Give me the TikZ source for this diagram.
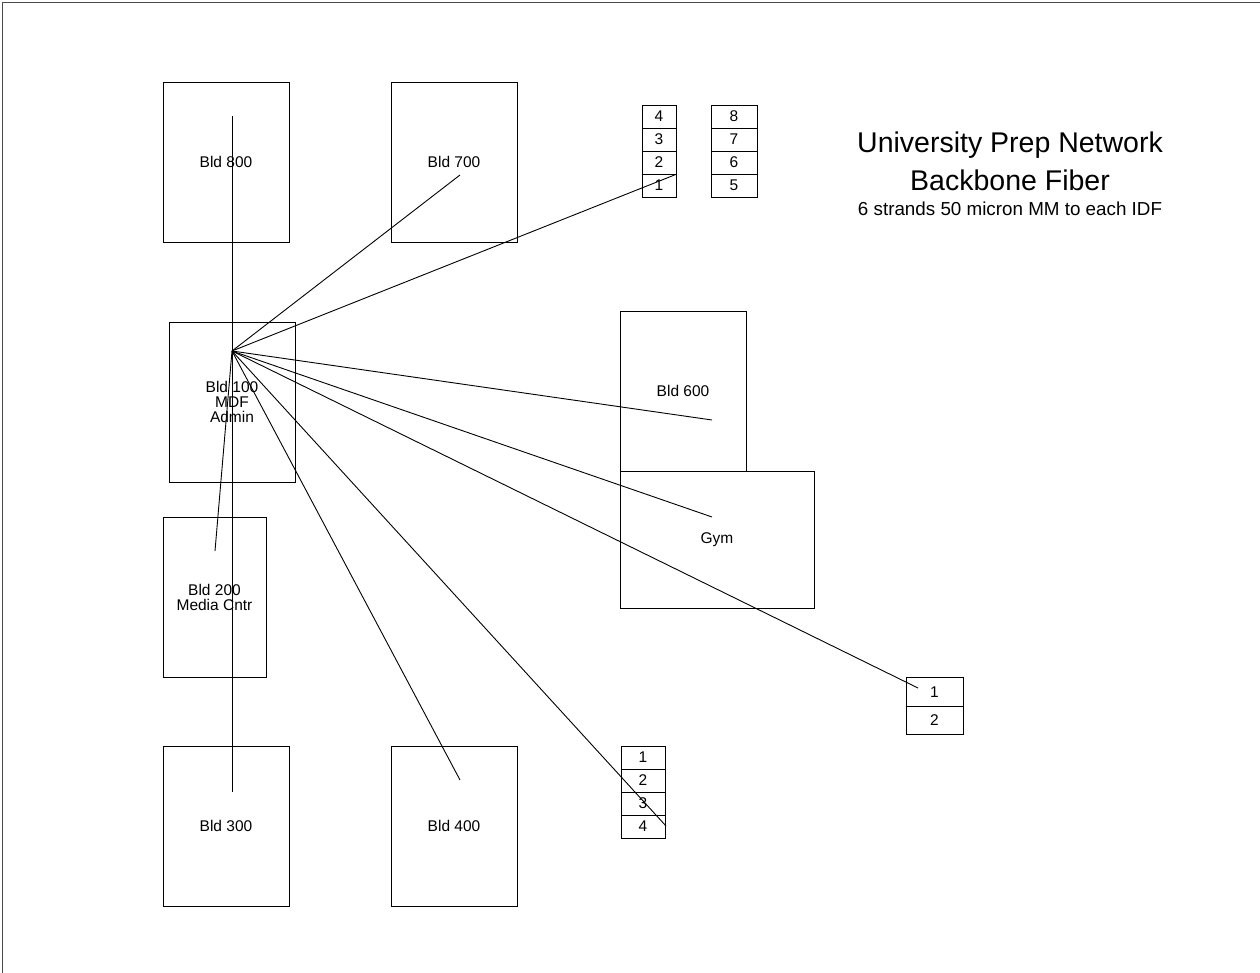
\documentclass[tikz,border=0pt]{standalone}
\usepackage{fontspec}
\setmainfont{Liberation Sans}
\usetikzlibrary{positioning}

\begin{document}
\begin{tikzpicture}[
  x=1pt, y=-1pt,
  line width=0.9pt,
  font=\fontsize{15.5}{15}\selectfont,
  bld/.style   = {draw, rectangle, inner sep=0pt, outer sep=0pt, align=center,
                  minimum width=126pt, minimum height=160pt},
  cell/.style  = {draw, rectangle, inner sep=0pt, outer sep=0pt,
                  minimum width=34pt, minimum height=23pt},
  fib/.style   = {line width=0.9pt},
]
\useasboundingbox (0,0) rectangle (1260,973);

%% --- sheet frame ---
\coordinate (frTR) at (1260,2);
\coordinate (frTL) at (2,2);
\coordinate (frBL) at (2,973);
\draw[black!70] (frTR) -- (frTL) -- (frBL);

%% --- buildings ---
\node[bld] (b800) at (226,162) {Bld 800};
\node[bld] (b700) at (454,162) {Bld 700};
\node[bld] (b100) at (232,402) {Bld 100\\MDF\\Admin};
\node[bld, minimum width=103pt] (b200) at (214.5,597) {Bld 200\\Media Cntr};
\node[bld] (b300) at (226,826) {Bld 300};
\node[bld] (b400) at (454,826) {Bld 400};
\node[bld] (b600) at (683,391) {Bld 600};
\node[bld, minimum width=194pt, minimum height=137pt] (gym) at (717,539.5) {Gym};

%% --- patch panels ---
\node[cell] (pa4) at (659,116.5) {4};
\node[cell, below=0pt of pa4] (pa3) {3};
\node[cell, below=0pt of pa3] (pa2) {2};
\node[cell, below=0pt of pa2] (pa1) {1};
\node[cell, minimum width=46pt] (pb8) at (734,116.5) {8};
\node[cell, minimum width=46pt, below=0pt of pb8] (pb7) {7};
\node[cell, minimum width=46pt, below=0pt of pb7] (pb6) {6};
\node[cell, minimum width=46pt, below=0pt of pb6] (pb5) {5};

\node[cell, minimum width=44pt] (pc1) at (643,757.5) {1};
\node[cell, minimum width=44pt, below=0pt of pc1] (pc2) {2};
\node[cell, minimum width=44pt, below=0pt of pc2] (pc3) {3};
\node[cell, minimum width=44pt, below=0pt of pc3] (pc4) {4};

\node[cell, minimum width=57pt, minimum height=28.5pt] (pd1) at (934.5,692) {1};
\node[cell, minimum width=57pt, minimum height=28.5pt, below=0pt of pd1] (pd2) {2};

%% --- title ---
\node (title)  at (1010,145) {\fontsize{28.5}{30}\selectfont University Prep Network};
\node (title2) at (1010,180) {\fontsize{28.5}{30}\selectfont Backbone Fiber};
\node (subt)   at (1010,209) {\fontsize{18.8}{20}\selectfont 6 strands 50 micron MM to each IDF};

%% --- fiber runs from the MDF ---
\coordinate (hub)   at (232,351);
\coordinate (vtop)  at (232,116);
\coordinate (vbot)  at (232,792);
\coordinate (e700)  at (460,175);
\coordinate (epa)   at (677,174);
\coordinate (e600)  at (712,420);
\coordinate (egym)  at (712,517);
\coordinate (epd)   at (918,688);
\coordinate (epc)   at (666,826);
\coordinate (e400)  at (460,780);
\coordinate (e200)  at (215,551);

\draw[fib] (vtop) -- (vbot);
\foreach \e in {e700,epa,e600,egym,epd,epc,e400,e200}
  \draw[fib] (hub) -- (\e);
\end{tikzpicture}
\end{document}
